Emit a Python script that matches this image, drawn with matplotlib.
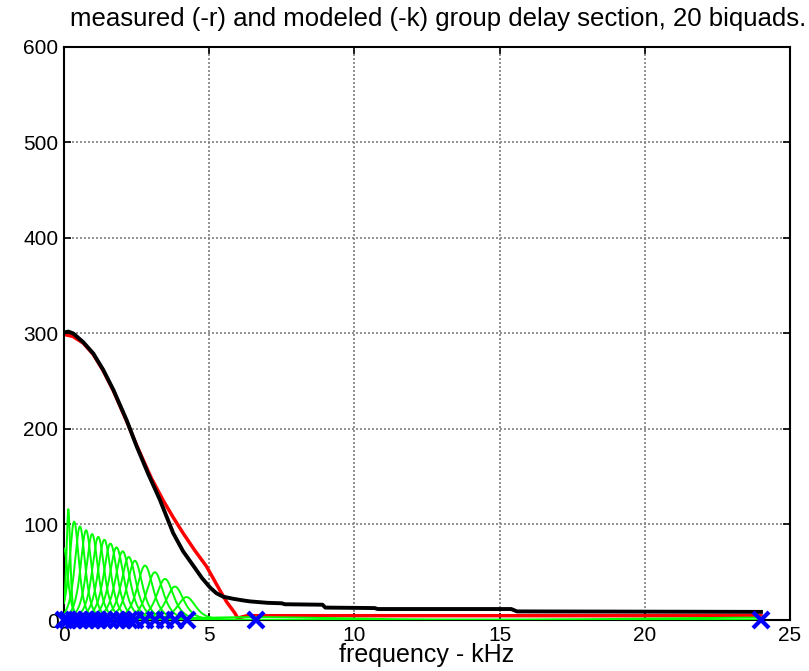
import numpy as np
import matplotlib
matplotlib.use("Agg")
import matplotlib.pyplot as plt

plt.rcParams['font.family'] = ['Liberation Sans', 'DejaVu Sans']

# measured group delay (red)
meas_f = [0.0, 0.3, 0.66, 1.01, 1.35, 1.70, 2.16, 2.50, 3.0, 3.42, 3.75, 4.10, 4.50,
          4.91, 5.37, 5.60, 5.89, 5.98, 6.3, 24.0]
meas_gd = [299, 297, 290, 278, 261, 240, 208, 183, 149, 125, 108, 91, 73,
           56, 31, 19, 7, 2, 4.5, 4.5]

# modeled group delay (black)
model_f = [0.0, 0.15, 0.32, 0.66, 1.01, 1.35, 1.70, 2.16, 2.50, 2.90, 3.30, 3.55, 3.76,
           4.10, 4.45, 4.75, 5.03, 5.25, 5.48, 5.83, 6.17, 6.40, 7.0, 7.5, 7.6, 8.9,
           9.0, 10.7, 10.8, 15.4, 15.6, 24.0]
model_gd = [301, 302, 300, 291, 279, 262, 241, 209, 182, 153, 126, 107, 91,
            72, 57, 44, 34, 28, 24.4, 22.2, 20.5, 19.5, 18, 17.5, 16.5, 16,
            13, 12.5, 11.5, 11.5, 9, 8.5]

# biquad sections: centre frequency (kHz), peak group delay, bandwidth (kHz)
bq_freq = [0.0, 0.15, 0.35, 0.55, 0.76, 0.97, 1.18, 1.39, 1.60, 1.81,
           2.02, 2.23, 2.44, 2.79, 3.13, 3.48, 3.82, 4.22, 6.6, 24.0]
bq_peak = [75, 116, 103, 98, 94, 90, 87, 84, 80, 76,
           72, 66, 62, 57, 50, 43, 35, 24, 3, 2.5]
bq_width = [0.25, 0.12, 0.30, 0.33, 0.35, 0.37, 0.39, 0.41, 0.43, 0.45,
            0.46, 0.47, 0.48, 0.50, 0.52, 0.54, 0.56, 0.58, 5.0, 7.0]

fig = plt.figure(figsize=(8.09, 6.71), dpi=100)
ax = fig.add_axes([0.0791, 0.076, 0.8974, 0.854])

f = np.linspace(0, 24, 4001)
for fc, pk, bw in zip(bq_freq, bq_peak, bq_width):
    g = pk / (1 + ((f - fc) / bw) ** 2) ** 2
    ax.plot(f, g, color=(0, 1, 0), lw=1.4, zorder=3)

ax.plot(meas_f, meas_gd, color=(1, 0, 0), lw=2.5, zorder=2)
ax.plot(model_f, model_gd, color='k', lw=2.8, zorder=4)
ax.plot(bq_freq, np.zeros(len(bq_freq)), 'x', color=(0, 0, 1), ms=11, mew=3,
        zorder=5, clip_on=False)

ax.set_xlim(0, 25)
ax.set_ylim(0, 600)
ax.set_xticks(np.arange(0, 26, 5))
ax.set_yticks(np.arange(0, 601, 100))
ax.grid(True, color='#808080', linestyle=(0, (1.2, 1.2)), lw=1.2)
ax.set_axisbelow(True)
ax.tick_params(direction='in', length=5, width=1.2, labelsize=15, top=True, right=True, pad=4)
for s in ax.spines.values():
    s.set_linewidth(1.5)
fig.text(0.5414, 1 - 19 / 671,
         'measured (-r) and modeled (-k) group delay section, 20 biquads.',
         fontsize=18.5, ha='center', va='center')
ax.set_xlabel('frequency - kHz', fontsize=18, labelpad=-1)

fig.savefig('out.png', dpi=100)
